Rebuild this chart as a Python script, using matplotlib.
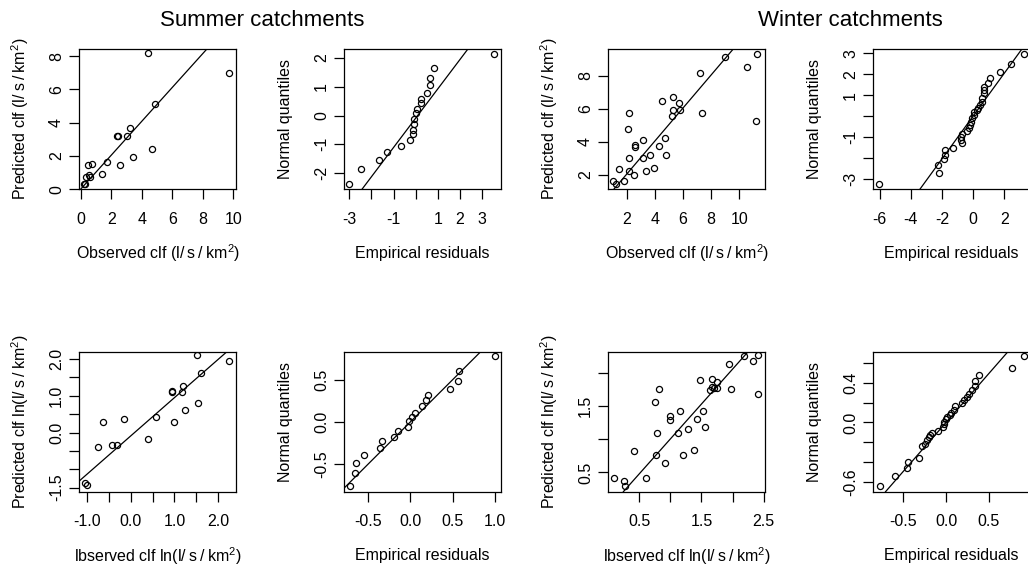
import matplotlib
matplotlib.use("Agg")
import matplotlib.pyplot as plt
import numpy as np

plt.rcParams['font.family'] = ['Liberation Sans', 'DejaVu Sans']
plt.rcParams['axes.unicode_minus'] = False
plt.rcParams['mathtext.fontset'] = 'custom'
plt.rcParams['mathtext.rm'] = 'Liberation Sans'
plt.rcParams['mathtext.it'] = 'Liberation Sans'
plt.rcParams['mathtext.default'] = 'regular'

# ---------------- data ----------------
# Summer, observed vs predicted
s_obs = [4.39, 9.69, 4.87, 3.25, 2.36, 2.47, 3.06, 4.69, 3.45, 1.72, 0.74, 0.46, 2.58, 1.42, 0.55, 0.35, 0.61, 0.24, 0.27]
s_pred = [8.17, 7.0, 5.12, 3.69, 3.17, 3.17, 3.17, 2.44, 1.92, 1.63, 1.53, 1.47, 1.47, 0.93, 0.87, 0.75, 0.75, 0.30, 0.33]
# Summer QQ
s_res = [-3.0, -2.46, -1.67, -1.32, -0.66, -0.27, -0.13, -0.13, -0.08, -0.07, 0.01, 0.05, 0.22, 0.22, 0.53, 0.63, 0.63, 0.81, 3.56]
s_q = [-2.37, -1.87, -1.56, -1.25, -1.05, -0.85, -0.64, -0.49, -0.30, -0.13, 0.08, 0.24, 0.42, 0.59, 0.79, 1.05, 1.32, 1.66, 2.14]
# Winter, observed vs predicted
w_obs = [11.29, 8.98, 10.55, 7.20, 5.30, 4.47, 5.73, 5.30, 5.80, 5.21, 2.17, 7.32, 11.19, 2.07, 4.71, 3.12, 2.59, 2.59,
         4.28, 3.64, 4.78, 2.17, 3.12, 3.95, 3.33, 2.17, 2.50, 1.43, 1.03, 1.76, 1.22]
w_pred = [9.32, 9.12, 8.51, 8.14, 6.70, 6.44, 6.34, 5.91, 5.91, 5.55, 5.71, 5.73, 5.28, 4.74, 4.21, 4.09, 3.82, 3.66,
          3.74, 3.20, 3.20, 3.03, 3.03, 2.41, 2.22, 2.22, 1.96, 2.32, 1.59, 1.59, 1.45]
# Winter QQ
w_res = [3.29, 2.41, 1.76, 1.09, 0.96, 0.70, 0.70, 0.70, 0.60, 0.60, 0.43, 0.32, 0.27, 0.04, 0.04, -0.07, -0.12, -0.18,
         -0.28, -0.41, -0.70, -0.76, -0.76, -0.72, -1.26, -1.78, -1.78, -1.84, -2.23, -2.21, -6.06]
w_q = [2.97, 2.47, 2.12, 1.84, 1.57, 1.41, 1.25, 1.09, 0.85, 0.69, 0.53, 0.37, 0.29, 0.21, 0.06, -0.10, -0.26, -0.42,
       -0.58, -0.69, -0.85, -0.98, -1.11, -1.27, -1.49, -1.62, -1.85, -2.05, -2.33, -2.68, -3.22]
# Summer, log scale
sl_obs = [1.51, 2.24, 1.61, 1.20, 0.94, 0.94, 1.17, 1.53, 1.24, 0.58, -0.15, -0.63, 1.00, 0.39, -0.76, -0.42, -0.31, -1.06, -1.00]
sl_pred = [2.10, 1.94, 1.62, 1.26, 1.13, 1.09, 1.09, 0.81, 0.61, 0.41, 0.38, 0.30, 0.30, -0.18, -0.38, -0.35, -0.35, -1.36, -1.44]
# Summer log QQ
sl_res = [1.0, 0.58, 0.56, 0.47, 0.21, 0.19, 0.14, 0.055, 0.02, -0.02, -0.03, -0.15, -0.19, -0.33, -0.36, -0.55, -0.64, -0.65, -0.71]
sl_q = [0.78, 0.60, 0.48, 0.39, 0.32, 0.26, 0.19, 0.11, 0.06, 0.01, -0.06, -0.11, -0.18, -0.23, -0.31, -0.39, -0.48, -0.60, -0.76]
# Winter, log scale
wl_obs = [2.40, 2.19, 2.33, 1.95, 1.67, 1.48, 1.75, 1.67, 1.70, 1.75, 1.64, 0.82, 1.98, 2.40, 0.75, 1.15, 1.52, 0.99, 0.99,
          1.43, 1.55, 1.29, 0.79, 1.13, 0.42, 1.38, 0.77, 1.20, 0.91, 0.09, 0.61, 0.25, 0.27]
wl_pred = [2.27, 2.25, 2.18, 2.14, 1.91, 1.89, 1.87, 1.79, 1.78, 1.78, 1.74, 1.76, 1.76, 1.69, 1.56, 1.42, 1.42, 1.35, 1.29,
           1.31, 1.18, 1.15, 1.09, 1.09, 0.82, 0.84, 0.77, 0.77, 0.64, 0.42, 0.42, 0.37, 0.30]
# Winter log QQ
wl_res = [0.91, 0.77, 0.39, 0.34, 0.34, 0.30, 0.27, 0.24, 0.21, 0.19, 0.10, 0.09, 0.06, 0.04, 0.01, 0.0, -0.02, -0.03, -0.04,
          -0.10, -0.17, -0.19, -0.20, -0.22, -0.25, -0.28, -0.32, -0.44, -0.46, -0.60, -0.77]
wl_q = [0.67, 0.55, 0.48, 0.42, 0.37, 0.33, 0.29, 0.26, 0.23, 0.20, 0.165, 0.13, 0.10, 0.08, 0.05, 0.03, 0.0, -0.02, -0.05,
        -0.09, -0.11, -0.13, -0.15, -0.18, -0.22, -0.24, -0.36, -0.40, -0.46, -0.54, -0.64]

# reference lines (intercept, slope)
lines = [(0.0, 1.02), (-0.09, 1.016), (0.05, 1.0), (0.0, 1.02),
         (-0.09, 1.04), (0.0, 1.0), (-0.05, 1.054), (0.0, 0.99)]

titles = ["Summer catchments", "Winter catchments"]
unit = "(l/\u2009s\u2009/\u2009km$^{2}$)"
xlabels = ["Observed clf " + unit, "Empirical residuals", "Observed clf " + unit, "Empirical residuals",
           "lbserved clf ln" + unit, "Empirical residuals", "lbserved clf ln" + unit, "Empirical residuals"]
ylabels = ["Predicted clf " + unit, "Normal quantiles", "Predicted clf " + unit, "Normal quantiles",
           "Predicted clf ln" + unit, "Normal quantiles", "Predicted clf ln" + unit, "Normal quantiles"]

xticks = [[0, 2, 4, 6, 8, 10], [-3, -2, -1, 0, 1, 2, 3], [2, 4, 6, 8, 10], [-6, -4, -2, 0, 2],
          [-1.0, -0.5, 0.0, 0.5, 1.0, 1.5, 2.0], [-0.5, 0.0, 0.5, 1.0], [0.5, 1.0, 1.5, 2.0, 2.5], [-0.5, 0.0, 0.5]]
xticklabels = [["0", "2", "4", "6", "8", "10"], ["-3", "", "-1", "", "1", "2", "3"], ["2", "4", "6", "8", "10"],
               ["-6", "-4", "-2", "0", "2"], ["-1.0", "", "0.0", "", "1.0", "", "2.0"], ["-0.5", "0.0", "0.5", "1.0"],
               ["0.5", "", "1.5", "", "2.5"], ["-0.5", "0.0", "0.5"]]
yticks = [[0, 2, 4, 6, 8], [-2, -1, 0, 1, 2], [2, 4, 6, 8], [-3, -2, -1, 0, 1, 2, 3],
          [-1.5, -1.0, -0.5, 0.0, 0.5, 1.0, 1.5, 2.0], [-0.5, 0.0, 0.5], [0.5, 1.0, 1.5, 2.0],
          [-0.6, -0.4, -0.2, 0.0, 0.2, 0.4, 0.6]]
yticklabels = [["0", "2", "4", "6", "8"], ["-2", "-1", "0", "1", "2"], ["2", "4", "6", "8"],
               ["-3", "", "-1", "", "1", "2", "3"], ["-1.5", "", "", "0.0", "", "1.0", "", "2.0"],
               ["-0.5", "0.0", "0.5"], ["0.5", "", "1.5", ""], ["-0.6", "", "", "0.0", "", "0.4", ""]]
xlims = [(-0.09, 10.18), (-3.23, 3.86), (0.67, 11.83), (-6.40, 3.66),
         (-1.18, 2.41), (-0.78, 1.07), (0.005, 2.52), (-0.85, 0.98)]
ylims = [(-0.01, 8.42), (-2.56, 2.30), (1.11, 9.60), (-3.48, 3.19),
         (-1.61, 2.20), (-0.825, 0.83), (0.21, 2.32), (-0.70, 0.715)]

series = [(s_obs, s_pred), (s_res, s_q), (w_obs, w_pred), (w_res, w_q),
          (sl_obs, sl_pred), (sl_res, sl_q), (wl_obs, wl_pred), (wl_res, wl_q)]

# ---------------- layout ----------------
W, H = 1028, 570
fig = plt.figure(figsize=(W / 100, H / 100), dpi=100)
col_left = [79.3, 344.3, 608.3, 873.3]
row_top = [49.3, 351.7]
aw, ah = 156.7, 140.0

for i in range(8):
    r, c = divmod(i, 4)
    ax = fig.add_axes([col_left[c] / W, 1 - (row_top[r] + ah) / H, aw / W, ah / H])
    x, y = series[i]
    ax.plot(x, y, linestyle='none', marker='o', markersize=4.4, markerfacecolor='none',
            markeredgecolor='black', markeredgewidth=0.9)
    a, b = lines[i]
    ax.axline((0, a), slope=b, color='black', lw=0.9)
    ax.set_xlim(*xlims[i])
    ax.set_ylim(*ylims[i])
    ax.set_xticks(xticks[i])
    ax.set_xticklabels(xticklabels[i])
    ax.set_yticks(yticks[i])
    ax.set_yticklabels(yticklabels[i], rotation=90, va='center')
    ax.tick_params(axis='both', direction='out', length=7, width=0.9, labelsize=11.5, colors='black')
    ax.tick_params(axis='x', pad=9)
    ax.tick_params(axis='y', pad=4)
    for sp in ax.spines.values():
        sp.set_linewidth(0.9)
    ax.set_xlabel(xlabels[i], fontsize=11.5)
    ax.set_ylabel(ylabels[i], fontsize=11.5)
    ax.xaxis.set_label_coords(0.5, -64 / ah)
    ax.xaxis.label.set_verticalalignment('center')
    ax.yaxis.set_label_coords(-59 / aw, 0.5)
    ax.yaxis.label.set_verticalalignment('center')
    ax.yaxis.label.set_horizontalalignment('center')

fig.text(262 / W, 1 - 20 / H, titles[0], ha='center', va='center', fontsize=16)
fig.text(850 / W, 1 - 20 / H, titles[1], ha='center', va='center', fontsize=16)

fig.savefig("out.png", dpi=100)
